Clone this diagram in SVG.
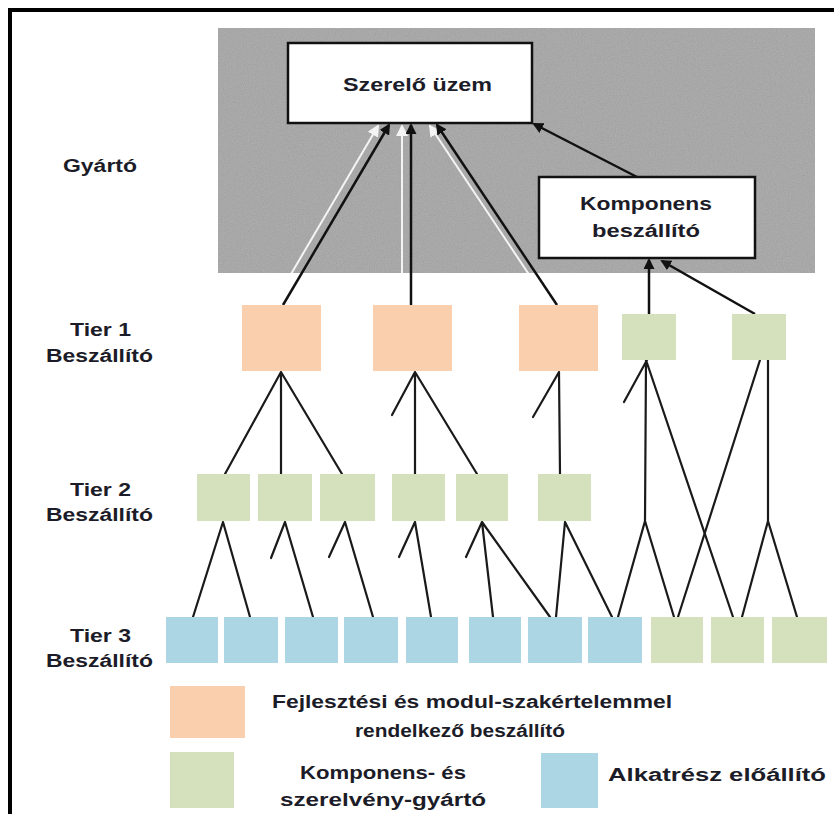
<svg xmlns="http://www.w3.org/2000/svg" width="834" height="814" viewBox="0 0 834 814">
<style>
  text { font-family: "Liberation Sans", Arial, sans-serif; font-weight: bold; font-size: 18px; fill: #1c1c28; }
  .box { fill: #ffffff; stroke: #111; stroke-width: 2.5; }
  .org { fill: #f9cfae; }
  .grn { fill: #d5e1bc; }
  .blu { fill: #acd6e3; }
  .ln { stroke: #1a1a1a; stroke-width: 2.2; fill: none; stroke-linecap: round; }
  .arr { stroke: #111; stroke-width: 2.5; fill: none; marker-end: url(#ah); }
  .wl { stroke: #f4f4f4; stroke-width: 2; fill: none; marker-end: url(#ahw); }
</style>
<defs>
  <marker id="ah" markerWidth="11" markerHeight="11" refX="9" refY="5.5" orient="auto" markerUnits="userSpaceOnUse">
    <path d="M0,0 L11,5.5 L0,11 Z" fill="#111"/>
  </marker>
  <marker id="ahw" markerWidth="12" markerHeight="12" refX="10" refY="6" orient="auto" markerUnits="userSpaceOnUse">
    <path d="M0,0 L12,6 L0,12 Z" fill="#f4f4f4"/>
  </marker>
  <clipPath id="greyclip">
    <rect x="218" y="28" width="597" height="245"/>
  </clipPath>
  <filter id="noise" x="0" y="0" width="100%" height="100%">
    <feTurbulence type="fractalNoise" baseFrequency="0.85" numOctaves="2" seed="7" result="t"/>
    <feColorMatrix in="t" type="matrix" values="0.33 0.33 0.33 0 0  0.33 0.33 0.33 0 0  0.33 0.33 0.33 0 0  0 0 0 0 1"/>
  </filter>
</defs>
<rect x="0" y="0" width="834" height="814" fill="#ffffff"/>
<!-- frame -->
<path d="M10,814 L10,10 L834,10" stroke="#000" stroke-width="4" fill="none"/>
<!-- manufacturer area -->
<g id="gyarto-area">
  <rect x="218" y="28" width="597" height="245" fill="#a3a3a3"/>
  <rect x="218" y="28" width="597" height="245" filter="url(#noise)" opacity="0.22"/>
</g>

<!-- row labels -->
<g id="labels">
  <text x="63" y="172" textLength="74" lengthAdjust="spacingAndGlyphs">Gyártó</text>
  <text x="70" y="336" textLength="61" lengthAdjust="spacingAndGlyphs">Tier 1</text>
  <text x="46" y="362" textLength="107" lengthAdjust="spacingAndGlyphs">Beszállító</text>
  <text x="70" y="496" textLength="61" lengthAdjust="spacingAndGlyphs">Tier 2</text>
  <text x="46" y="521" textLength="107" lengthAdjust="spacingAndGlyphs">Beszállító</text>
  <text x="70" y="642" textLength="61" lengthAdjust="spacingAndGlyphs">Tier 3</text>
  <text x="46" y="667" textLength="107" lengthAdjust="spacingAndGlyphs">Beszállító</text>
</g>

<!-- connectors -->
<g id="connectors">
  <!-- white highlight lines, visible only inside grey area -->
  <g clip-path="url(#greyclip)">
    <line class="wl" x1="274" y1="303" x2="378" y2="126"/>
    <line class="wl" x1="402" y1="300" x2="402" y2="126"/>
    <line class="wl" x1="548" y1="303" x2="430" y2="126"/>
  </g>
  <!-- tier1 -> assembly plant -->
  <line class="arr" x1="283" y1="305" x2="389" y2="125"/>
  <line class="arr" x1="411" y1="305" x2="411" y2="125"/>
  <line class="arr" x1="557" y1="305" x2="437" y2="125"/>
  <!-- component supplier -> assembly plant -->
  <line class="arr" x1="637" y1="177" x2="534" y2="124"/>
  <!-- tier1 green -> component supplier -->
  <line class="arr" x1="649" y1="314" x2="649" y2="260"/>
  <line class="arr" x1="755" y1="314" x2="662" y2="261"/>

  <!-- tier1 -> tier2 -->
  <path class="ln" d="M281,372 L225,474 M281,372 L281,474 M281,372 L342,474"/>
  <path class="ln" d="M415,372 L392,415 M415,372 L415,474 M415,372 L477,474"/>
  <path class="ln" d="M559,372 L533,417 M559,372 L560,474"/>
  <!-- tier1 green -> tier3 -->
  <path class="ln" d="M647,360 L624,402 M646,360 L645,521 L618,617 M645,521 L674,617 M646,360 L733,617"/>
  <path class="ln" d="M760,360 L678,617 M768,360 L768,521 L742,617 M768,521 L797,617"/>

  <!-- tier2 -> tier3 -->
  <path class="ln" d="M223,522 L193,617 M223,522 L250,617"/>
  <path class="ln" d="M285,522 L271,558 M285,522 L313,617"/>
  <path class="ln" d="M345,522 L329,557 M345,522 L373,617"/>
  <path class="ln" d="M415,522 L399,557 M415,522 L431,617"/>
  <path class="ln" d="M482,522 L466,557 M482,522 L493,617 M482,522 L550,617"/>
  <path class="ln" d="M565,522 L556,617 M565,522 L612,617"/>
</g>

<!-- manufacturer nodes -->
<g id="szerelo-uzem">
  <rect class="box" x="288" y="43" width="244" height="80"/>
  <text x="343" y="91" textLength="149" lengthAdjust="spacingAndGlyphs">Szerelő üzem</text>
</g>
<g id="komponens-beszallito">
  <rect class="box" x="539" y="177" width="216" height="81"/>
  <text x="580" y="210" textLength="132" lengthAdjust="spacingAndGlyphs">Komponens</text>
  <text x="592" y="237" textLength="108" lengthAdjust="spacingAndGlyphs">beszállító</text>
</g>

<!-- tier 1 -->
<g id="t1-1"><rect class="org" x="242" y="305" width="79" height="66"/></g>
<g id="t1-2"><rect class="org" x="373" y="305" width="79" height="66"/></g>
<g id="t1-3"><rect class="org" x="519" y="305" width="79" height="66"/></g>
<g id="t1-4"><rect class="grn" x="622" y="314" width="54" height="46"/></g>
<g id="t1-5"><rect class="grn" x="732" y="314" width="54" height="46"/></g>

<!-- tier 2 -->
<g id="t2-1"><rect class="grn" x="197" y="474" width="53" height="47"/></g>
<g id="t2-2"><rect class="grn" x="258" y="474" width="54" height="47"/></g>
<g id="t2-3"><rect class="grn" x="320" y="474" width="55" height="47"/></g>
<g id="t2-4"><rect class="grn" x="392" y="474" width="53" height="47"/></g>
<g id="t2-5"><rect class="grn" x="456" y="474" width="52" height="47"/></g>
<g id="t2-6"><rect class="grn" x="538" y="474" width="53" height="47"/></g>

<!-- tier 3 -->
<g id="t3-1"><rect class="blu" x="166" y="617" width="52" height="46"/></g>
<g id="t3-2"><rect class="blu" x="224" y="617" width="54" height="46"/></g>
<g id="t3-3"><rect class="blu" x="285" y="617" width="53" height="46"/></g>
<g id="t3-4"><rect class="blu" x="344" y="617" width="54" height="46"/></g>
<g id="t3-5"><rect class="blu" x="406" y="617" width="52" height="46"/></g>
<g id="t3-6"><rect class="blu" x="469" y="617" width="52" height="46"/></g>
<g id="t3-7"><rect class="blu" x="528" y="617" width="54" height="46"/></g>
<g id="t3-8"><rect class="blu" x="588" y="617" width="54" height="46"/></g>
<g id="t3-9"><rect class="grn" x="651" y="617" width="52" height="46"/></g>
<g id="t3-10"><rect class="grn" x="711" y="617" width="53" height="46"/></g>
<g id="t3-11"><rect class="grn" x="772" y="617" width="55" height="46"/></g>

<!-- legend -->
<g id="legend-modul">
  <rect class="org" x="170" y="686" width="75" height="52"/>
  <text x="272" y="708" textLength="400" lengthAdjust="spacingAndGlyphs">Fejlesztési és modul-szakértelemmel</text>
  <text x="355" y="737" textLength="210" lengthAdjust="spacingAndGlyphs">rendelkező beszállító</text>
</g>
<g id="legend-komponens">
  <rect class="grn" x="170" y="752" width="64" height="56"/>
  <text x="300" y="779" textLength="166" lengthAdjust="spacingAndGlyphs">Komponens- és</text>
  <text x="280" y="806" textLength="206" lengthAdjust="spacingAndGlyphs">szerelvény-gyártó</text>
</g>
<g id="legend-alkatresz">
  <rect class="blu" x="541" y="753" width="57" height="55"/>
  <text x="608" y="781" textLength="218" lengthAdjust="spacingAndGlyphs">Alkatrész előállító</text>
</g>
</svg>
